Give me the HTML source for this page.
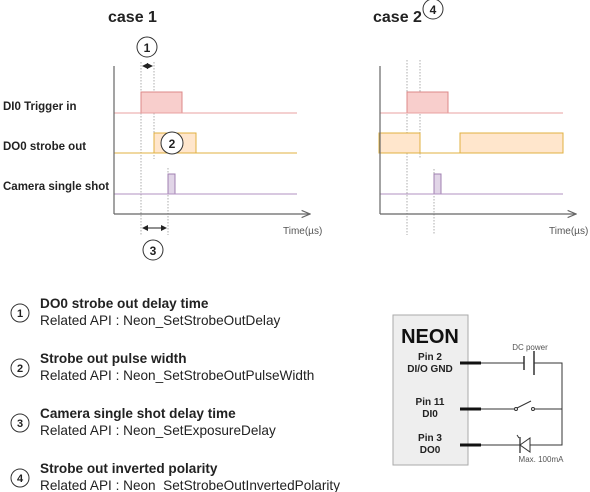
<!DOCTYPE html>
<html><head><meta charset="utf-8"><style>body{margin:0;background:#fff}svg{display:block}text{font-family:"Liberation Sans",Arial,sans-serif}</style></head><body>
<svg width="590" height="492" viewBox="0 0 590 492">
<defs><marker id="a" markerWidth="6" markerHeight="6" refX="5" refY="3" orient="auto-start-reverse"><path d="M0,0L6,3L0,6z" fill="#222"/></marker>
<marker id="ax" markerWidth="8" markerHeight="8" refX="7" refY="4" orient="auto"><path d="M0,1L7,4L0,7" fill="none" stroke="#666" stroke-width="1"/></marker></defs>
<text x="108" y="22" font-size="16" font-weight="bold" fill="#222">case 1</text>
<text x="373" y="22" font-size="16" font-weight="bold" fill="#222">case 2</text>
<g font-size="11.5" font-weight="bold" fill="#222">
<text x="3" y="110">DI0 Trigger in</text><text x="3" y="150">DO0 strobe out</text><text x="3" y="190">Camera single shot</text></g>
<g stroke="#999" stroke-width="0.8" stroke-dasharray="1.5,1.5">
<line x1="141" y1="62" x2="141" y2="235"/><line x1="154" y1="62" x2="154" y2="159"/><line x1="168" y1="168" x2="168" y2="235"/>
<line x1="407" y1="60" x2="407" y2="235"/><line x1="420" y1="60" x2="420" y2="159"/><line x1="434" y1="169" x2="434" y2="235"/></g>
<rect x="141" y="92" width="41" height="21" fill="#f8cecc" stroke="#d88" stroke-width="1"/>
<line x1="114" y1="113" x2="297" y2="113" stroke="#e8a0a0"/>
<rect x="154" y="133" width="42" height="20" fill="#ffe6cc" stroke="#e0b040"/>
<line x1="114" y1="153" x2="297" y2="153" stroke="#e0b040"/>
<rect x="168" y="174" width="7" height="20" fill="#e1d5e7" stroke="#a080b0"/>
<line x1="114" y1="194" x2="297" y2="194" stroke="#b090c0"/>
<line x1="114" y1="66" x2="114" y2="214" stroke="#666" stroke-width="1.2"/>
<line x1="114" y1="214" x2="310" y2="214" stroke="#666" stroke-width="1.2" marker-end="url(#ax)"/>
<text x="283" y="234" font-size="10" fill="#555">Time(µs)</text>
<line x1="143" y1="66" x2="152" y2="66" stroke="#222" marker-start="url(#a)" marker-end="url(#a)"/>
<line x1="143" y1="228" x2="166" y2="228" stroke="#222" marker-start="url(#a)" marker-end="url(#a)"/>
<g fill="#fff" stroke="#333"><circle cx="147" cy="47" r="10"/><circle cx="172" cy="143" r="11"/><circle cx="153" cy="250" r="10"/><circle cx="433" cy="9" r="10"/></g>
<g font-size="12" font-weight="bold" fill="#222" text-anchor="middle"><text x="147" y="52">1</text><text x="172" y="148">2</text><text x="153" y="255">3</text><text x="433" y="14">4</text></g>
<rect x="407" y="92" width="41" height="21" fill="#f8cecc" stroke="#d88"/>
<line x1="380" y1="113" x2="563" y2="113" stroke="#e8a0a0"/>
<rect x="379" y="133" width="41" height="20" fill="#ffe6cc" stroke="#e0b040"/>
<rect x="460" y="133" width="103" height="20" fill="#ffe6cc" stroke="#e0b040"/>
<line x1="420" y1="153" x2="460" y2="153" stroke="#e0b040"/>
<rect x="434" y="174" width="7" height="20" fill="#e1d5e7" stroke="#a080b0"/>
<line x1="380" y1="194" x2="563" y2="194" stroke="#b090c0"/>
<line x1="380" y1="66" x2="380" y2="214" stroke="#666" stroke-width="1.2"/>
<line x1="380" y1="214" x2="576" y2="214" stroke="#666" stroke-width="1.2" marker-end="url(#ax)"/>
<text x="549" y="234" font-size="10" fill="#555">Time(µs)</text>
<g fill="#fff" stroke="#333"><circle cx="20" cy="313" r="9"/><circle cx="20" cy="368" r="9"/><circle cx="20" cy="423" r="9"/><circle cx="20" cy="478" r="9"/></g>
<g font-size="11" font-weight="bold" fill="#222" text-anchor="middle"><text x="20" y="317">1</text><text x="20" y="372">2</text><text x="20" y="427">3</text><text x="20" y="482">4</text></g>
<g font-size="13.6" fill="#222">
<text x="40" y="308" font-weight="bold">DO0 strobe out delay time</text><text x="40" y="325">Related API : Neon_SetStrobeOutDelay</text>
<text x="40" y="363" font-weight="bold">Strobe out pulse width</text><text x="40" y="380">Related API : Neon_SetStrobeOutPulseWidth</text>
<text x="40" y="418" font-weight="bold">Camera single shot delay time</text><text x="40" y="435">Related API : Neon_SetExposureDelay</text>
<text x="40" y="473" font-weight="bold">Strobe out inverted polarity</text><text x="40" y="490">Related API : Neon_SetStrobeOutInvertedPolarity</text></g>
<rect x="393" y="315" width="75" height="150" fill="#eee" stroke="#aaa"/>
<text x="430" y="343" font-size="20" font-weight="bold" text-anchor="middle" fill="#111">NEON</text>
<g font-size="10" font-weight="bold" text-anchor="middle" fill="#222">
<text x="430" y="360">Pin 2</text><text x="430" y="372">DI/O GND</text>
<text x="430" y="405">Pin 11</text><text x="430" y="417">DI0</text>
<text x="430" y="441">Pin 3</text><text x="430" y="453">DO0</text></g>
<g stroke="#111" stroke-width="3"><line x1="460" y1="363" x2="481" y2="363"/><line x1="460" y1="409" x2="481" y2="409"/><line x1="460" y1="445" x2="481" y2="445"/></g>
<g stroke="#333" stroke-width="1" fill="none">
<line x1="481" y1="363" x2="524" y2="363"/><line x1="524" y1="356" x2="524" y2="370" stroke-width="1.5"/><line x1="534" y1="351" x2="534" y2="375" stroke-width="1.5"/><polyline points="534,363 562,363 562,445 536,445"/>
<line x1="481" y1="409" x2="514" y2="409"/><circle cx="516" cy="409" r="1.5"/><line x1="517" y1="408" x2="531" y2="401"/><circle cx="533" cy="409" r="1.5"/><line x1="535" y1="409" x2="562" y2="409"/>
<line x1="481" y1="445" x2="520" y2="445"/><line x1="520" y1="437" x2="520" y2="453" stroke-width="1.3"/><path d="M520,445L530,438L530,452z"/><line x1="530" y1="445" x2="536" y2="445"/><line x1="517" y1="435" x2="519" y2="438"/></g>
<text x="530" y="350" font-size="8" fill="#555" text-anchor="middle">DC power</text>
<text x="541" y="462" font-size="8" fill="#555" text-anchor="middle">Max. 100mA</text>
</svg></body></html>
